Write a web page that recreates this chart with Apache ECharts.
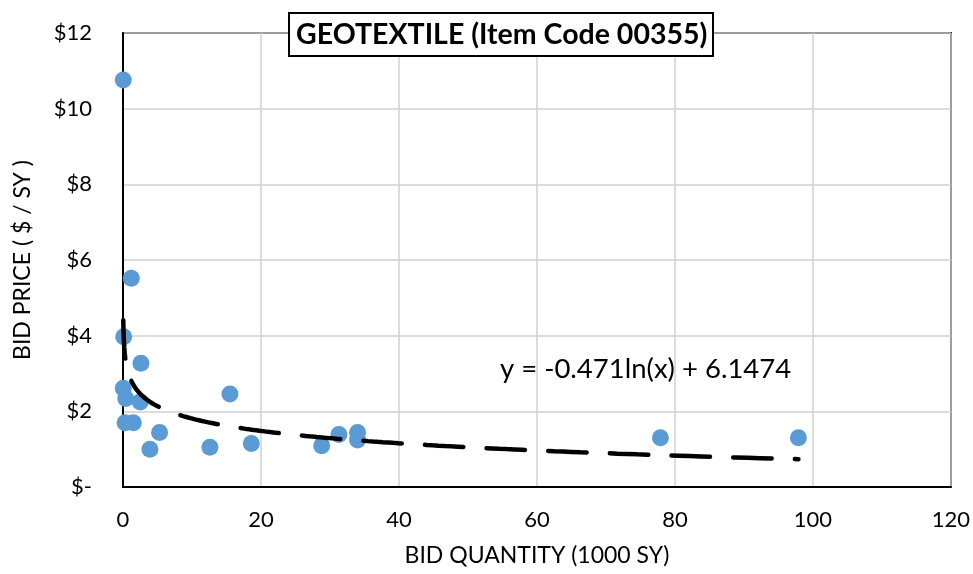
<!DOCTYPE html>
<html>
<head>
<meta charset="utf-8">
<script src="https://cdn.jsdelivr.net/npm/echarts@6/dist/echarts.min.js"></script>
<style>
  html, body { margin: 0; padding: 0; background: #fff; }
  #chart { width: 973px; height: 574px; }
</style>
</head>
<body>
<div id="chart"></div>
<script>
// Bid quantity (thousands of SY) and bid price ($/SY) for each bid
const bidQuantity = [0.04, 1.2, 0.1, 2.6, 0.04, 0.4, 2.5, 15.5, 0.3, 1.5, 5.3, 3.9, 12.6, 18.6, 28.8, 31.3, 34.0, 34.0, 77.9, 97.9];
const bidPrice    = [10.76, 5.52, 3.97, 3.27, 2.61, 2.34, 2.25, 2.46, 1.70, 1.70, 1.44, 1.00, 1.05, 1.15, 1.09, 1.39, 1.44, 1.24, 1.30, 1.30];

// Logarithmic trend line y = a*ln(x) + b, with x in SY (not thousands)
const trendCoeffs = [-0.471, 6.1474];
const trendLabel = 'y = -0.471ln(x) + 6.1474';

const xTicks = [0, 20, 40, 60, 80, 100, 120];
const yTicks = [0, 2, 4, 6, 8, 10, 12];

const FONT = 'Lato, "Open Sans", sans-serif';

const points = bidQuantity.map((q, i) => [q, bidPrice[i]]);

// Trend curve spans the range of the observed quantities
const qMin = Math.min(...bidQuantity);
const qMax = Math.max(...bidQuantity);
const trend = [];
const steps = 400;
for (let i = 0; i <= steps; i++) {
  const q = qMin * Math.pow(qMax / qMin, i / steps);
  trend.push([q, trendCoeffs[0] * Math.log(q * 1000) + trendCoeffs[1]]);
}

// Axes that only draw the top and right edges of the plot frame
const frameX = {
  type: 'value', position: 'top', min: xTicks[0], max: xTicks[xTicks.length - 1],
  axisLine: { show: true, onZero: false, lineStyle: { color: '#000', width: 2 } },
  axisTick: { show: false }, axisLabel: { show: false }, splitLine: { show: false }
};
const frameY = {
  type: 'value', position: 'right', min: yTicks[0], max: yTicks[yTicks.length - 1],
  axisLine: { show: true, onZero: false, lineStyle: { color: '#000', width: 2 } },
  axisTick: { show: false }, axisLabel: { show: false }, splitLine: { show: false }
};

const chart = echarts.init(document.getElementById('chart'), null, { renderer: 'canvas' });
chart.setOption({
  backgroundColor: '#ffffff',
  animation: false,
  title: {
    text: 'GEOTEXTILE (Item Code 00355)',
    left: 289,
    top: 13,
    padding: [7, 6, 7, 7],
    borderColor: '#000',
    borderWidth: 2,
    backgroundColor: '#fff',
    textStyle: { fontFamily: FONT, fontWeight: 'bold', fontSize: 28.5, color: '#000' }
  },
  grid: { left: 123, right: 22, top: 33, bottom: 87 },
  xAxis: [{
    type: 'value',
    min: xTicks[0], max: xTicks[xTicks.length - 1], interval: 20,
    name: 'BID QUANTITY (1000 SY)',
    nameLocation: 'middle',
    nameGap: 57,
    nameTextStyle: { fontFamily: FONT, fontSize: 23, color: '#000' },
    axisLine: { show: true, onZero: false, lineStyle: { color: '#000', width: 2 } },
    axisTick: { show: false },
    axisLabel: { fontFamily: FONT, fontSize: 22, color: '#000', margin: 22 },
    splitLine: { show: true, lineStyle: { color: '#d0d0d0', width: 1.5 } },
    z: 1
  }, frameX],
  yAxis: [{
    type: 'value',
    min: yTicks[0], max: yTicks[yTicks.length - 1], interval: 2,
    name: 'BID PRICE ( $ / SY )',
    nameLocation: 'middle',
    nameGap: 89,
    nameTextStyle: { fontFamily: FONT, fontSize: 23, color: '#000' },
    axisLine: { show: true, onZero: false, lineStyle: { color: '#000', width: 2 } },
    axisTick: { show: false },
    axisLabel: {
      fontFamily: FONT, fontSize: 22, color: '#000', margin: 31,
      formatter: v => (v === 0 ? '$-' : '$' + v)
    },
    splitLine: { show: true, lineStyle: { color: '#d0d0d0', width: 1.5 } },
    z: 1
  }, frameY],
  graphic: [{
    type: 'text',
    left: 500,
    top: 355,
    z: 10,
    style: { text: trendLabel, fontFamily: FONT, fontSize: 27.5, fill: '#000' }
  }],
  series: [
    {
      name: 'Bids',
      type: 'scatter',
      data: points,
      symbol: 'circle',
      symbolSize: 17,
      itemStyle: { color: '#5b9bd5', opacity: 1 },
      z: 2
    },
    {
      name: 'Log trend',
      type: 'line',
      data: trend,
      showSymbol: false,
      symbol: 'none',
      smooth: false,
      clip: false,
      lineStyle: { color: '#000', width: 4.5, type: [38.5, 23.2], cap: 'round' },
      z: 3
    }
  ]
});
</script>
</body>
</html>
